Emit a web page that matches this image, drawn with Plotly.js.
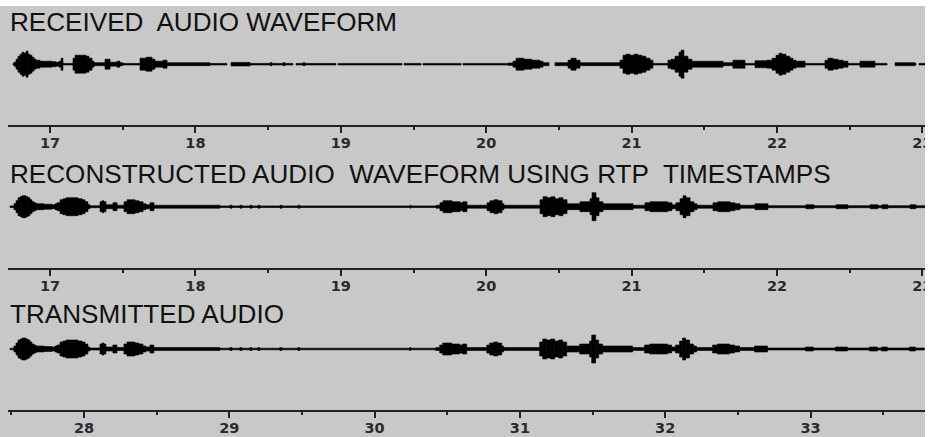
<!DOCTYPE html>
<html>
<head>
<meta charset="utf-8">
<script src="https://cdn.plot.ly/plotly-3.0.1.min.js"></script>
<style>
  html, body { margin: 0; padding: 0; background: #c8c8c8; }
  #chart { width: 928px; height: 437px; }
</style>
</head>
<body>
<div id="chart"></div>
<script>
// Waveform envelopes: amplitude holds from each knot time until the next knot.
// An amplitude of 0 leaves a gap in the trace.

// Received audio (seconds, envelope amplitude)
const receivedTime = [
  16.746, 16.752, 16.766, 16.780, 16.794, 16.807, 16.821, 16.835, 16.849, 16.862,
  16.876, 16.890, 16.904, 16.931, 17.014, 17.041, 17.062, 17.076, 17.089, 17.158,
  17.172, 17.248, 17.268, 17.289, 17.303, 17.378, 17.413, 17.461, 17.481, 17.502,
  17.619, 17.660, 17.702, 17.722, 17.777, 17.805, 18.100, 18.217, 18.245, 18.376,
  18.513, 18.527, 18.602, 18.616, 18.671, 18.692, 18.740, 18.754, 18.967, 18.981,
  19.421, 19.435, 19.552, 19.565, 19.827, 19.840, 20.150, 20.184, 20.205, 20.260,
  20.315, 20.370, 20.391, 20.432, 20.473, 20.563, 20.583, 20.618, 20.645, 20.920,
  20.941, 20.962, 20.989, 21.017, 21.044, 21.072, 21.099, 21.127, 21.147, 21.250,
  21.271, 21.299, 21.326, 21.340, 21.360, 21.388, 21.415, 21.629, 21.697, 21.780,
  21.849, 21.931, 21.966, 21.993, 22.014, 22.034, 22.062, 22.089, 22.110, 22.131,
  22.193, 22.330, 22.351, 22.385, 22.420, 22.454, 22.488, 22.571, 22.674, 22.757,
  22.812, 22.949, 22.956, 22.977, 23.018
];
const receivedAmp = [
  0.8, 2, 5, 8, 10, 12, 11, 13, 10, 9,
  7, 5, 4, 3, 2.5, 2, 3, 6, 0.8, 6,
  9, 8, 6, 3, 1.5, 5, 2, 3, 1.5, 0.8,
  6, 7, 5, 3, 4, 1.5, 0.8, 0, 1.8, 0.8,
  1.5, 0.8, 1.5, 0.8, 0, 0.8, 1.5, 0.8, 0, 0.8,
  0, 0.8, 0, 0.8, 0, 0.8, 1.2, 3, 6, 5,
  4, 3, 1.5, 0, 1.5, 4, 6, 4, 1.5, 4,
  9, 10, 9, 10, 9, 8, 6, 4, 0.8, 4,
  5, 8, 12, 14, 8, 5, 3, 1.5, 4, 0.8,
  3.5, 4, 6, 9, 11, 10, 8, 6, 4, 3,
  0.8, 4, 6, 5, 4, 3, 0.8, 3, 0.8, 0,
  1.5, 0.8, 0, 0.8, 0
];

// Reconstructed audio placed by RTP timestamps
const reconstructedTime = [
  16.725, 16.752, 16.766, 16.780, 16.794, 16.807, 16.835, 16.849, 16.862, 16.876,
  16.890, 16.904, 16.959, 17.014, 17.034, 17.048, 17.069, 17.089, 17.110, 17.193,
  17.220, 17.241, 17.261, 17.275, 17.344, 17.358, 17.371, 17.385, 17.433, 17.461,
  17.509, 17.530, 17.585, 17.612, 17.640, 17.660, 17.688, 17.715, 18.169, 18.238,
  18.252, 18.307, 18.320, 18.376, 18.389, 18.431, 18.444, 18.582, 18.596, 18.706,
  18.719, 19.476, 19.483, 19.655, 19.682, 19.703, 19.765, 19.820, 19.840, 19.868,
  20.006, 20.026, 20.054, 20.081, 20.109, 20.122, 20.370, 20.391, 20.418, 20.446,
  20.473, 20.501, 20.528, 20.556, 20.645, 20.714, 20.728, 20.755, 20.776, 20.803,
  21.010, 21.092, 21.127, 21.250, 21.278, 21.305, 21.333, 21.354, 21.374, 21.402,
  21.429, 21.450, 21.560, 21.594, 21.677, 21.711, 21.746, 21.849, 21.938, 22.199,
  22.254, 22.406, 22.488, 22.640, 22.695, 22.722, 22.763, 22.915, 22.956, 23.018
];

// Transmitted audio (sender clock)
const transmittedTime = [
  27.491, 27.518, 27.532, 27.546, 27.560, 27.573, 27.601, 27.615, 27.628, 27.642,
  27.656, 27.670, 27.725, 27.780, 27.800, 27.814, 27.835, 27.855, 27.876, 27.959,
  27.986, 28.007, 28.027, 28.041, 28.110, 28.124, 28.137, 28.151, 28.199, 28.227,
  28.275, 28.296, 28.351, 28.378, 28.406, 28.426, 28.454, 28.481, 28.935, 29.004,
  29.018, 29.073, 29.086, 29.142, 29.155, 29.197, 29.210, 29.348, 29.362, 29.472,
  29.485, 30.242, 30.249, 30.421, 30.448, 30.469, 30.531, 30.586, 30.606, 30.634,
  30.772, 30.792, 30.820, 30.847, 30.875, 30.888, 31.136, 31.157, 31.184, 31.212,
  31.239, 31.267, 31.294, 31.322, 31.411, 31.480, 31.494, 31.521, 31.542, 31.569,
  31.776, 31.858, 31.893, 32.016, 32.044, 32.071, 32.099, 32.120, 32.140, 32.168,
  32.195, 32.216, 32.326, 32.360, 32.443, 32.477, 32.512, 32.615, 32.704, 32.965,
  33.020, 33.172, 33.254, 33.406, 33.461, 33.488, 33.529, 33.681, 33.722, 33.784
];

// Same audio content in both of the lower panels
const transmittedAmp = [
  0.8, 3, 6, 9, 10, 11, 10, 9, 7, 5,
  4, 3, 2.5, 2, 3, 4, 7, 8, 9, 8,
  7, 5, 2, 1, 5, 6, 5, 2, 4, 1.5,
  5, 7, 6, 5, 3, 2, 4, 1.5, 0.8, 1.5,
  0.8, 1.5, 0.8, 1.5, 0.8, 1.5, 0.8, 1.5, 0.8, 1.5,
  0.8, 1.5, 0.8, 1.5, 4, 6, 5, 4, 5, 1.5,
  4, 6, 7, 6, 3, 1.5, 7, 10, 9, 10,
  8, 9, 7, 3, 5, 8, 14, 9, 5, 3,
  1.5, 4, 5, 4, 2, 4, 8, 11, 9, 5,
  3, 1.5, 4, 5, 4, 3, 1.5, 3, 1, 2,
  1, 2, 1, 2, 1, 2, 1, 2, 1, 0
];

const xTicks = {
  received: [17, 18, 19, 20, 21, 22, 23],
  transmitted: [28, 29, 30, 31, 32, 33]
};

const titles = [
  'RECEIVED\u00a0 AUDIO WAVEFORM',
  'RECONSTRUCTED AUDIO\u00a0 WAVEFORM USING RTP\u00a0 TIMESTAMPS',
  'TRANSMITTED AUDIO'
];

function envelopeBars(t, amp, xa, ya) {
  const x = [], w = [], base = [], h = [];
  for (let i = 0; i < t.length - 1; i++) {
    if (amp[i] > 0) {
      x.push((t[i] + t[i + 1]) / 2);
      w.push(t[i + 1] - t[i]);
      base.push(-amp[i]);
      h.push(2 * amp[i]);
    }
  }
  return {
    type: 'bar', x: x, y: h, base: base, width: w,
    xaxis: xa, yaxis: ya,
    marker: { color: '#000', line: { color: '#000', width: 0.6 } },
    hoverinfo: 'skip', showlegend: false
  };
}

const data = [
  envelopeBars(receivedTime, receivedAmp, 'x', 'y'),
  envelopeBars(reconstructedTime, transmittedAmp, 'x2', 'y2'),
  envelopeBars(transmittedTime, transmittedAmp, 'x3', 'y3')
];

const axisColor = '#222';
function timeAxis(anchor, range, ticks) {
  return {
    anchor: anchor, domain: [0, 1], range: range,
    showline: true, linecolor: axisColor, linewidth: 2,
    ticks: 'outside', ticklen: 6, tickwidth: 2, tickcolor: axisColor,
    tickvals: ticks, ticktext: ticks.map(String),
    ticklabeloverflow: 'allow', ticklabelstandoff: -2,
    tickfont: { family: 'DejaVu Sans', size: 14.5, weight: 'bold', color: '#2a2a2a' },
    minor: { tickvals: ticks.map(v => v - 0.5).concat([ticks[ticks.length - 1] + 0.5]),
             ticks: 'outside', ticklen: 3, tickwidth: 2, tickcolor: axisColor },
    showgrid: false, zeroline: false, fixedrange: true
  };
}
function ampAxis(domain, range) {
  return {
    domain: domain, range: range,
    showline: false, showgrid: false, zeroline: false,
    showticklabels: false, ticks: '', fixedrange: true
  };
}

function titleNote(text, y) {
  return {
    text: text, xref: 'paper', yref: 'paper', x: 0, y: y,
    xanchor: 'left', yanchor: 'top', showarrow: false,
    font: { family: 'Liberation Sans, Arial, sans-serif', size: 26.1, color: '#111' }
  };
}

const layout = {
  width: 928, height: 437,
  margin: { l: 8, r: 3, t: 0, b: 0, pad: 0 },
  paper_bgcolor: '#c8c8c8', plot_bgcolor: '#c8c8c8',
  barmode: 'overlay', showlegend: false,
  xaxis: timeAxis('y', [16.711, 23.018], xTicks.received),
  xaxis2: timeAxis('y2', [16.711, 23.018], xTicks.received),
  xaxis3: timeAxis('y3', [27.477, 33.788], xTicks.transmitted),
  yaxis: ampAxis([0.71396, 0.91991], [-60.8, 29.2]),
  yaxis2: ampAxis([0.38741, 0.59336], [-61, 29]),
  yaxis3: ampAxis([0.06247, 0.26842], [-60.7, 29.3]),
  annotations: [
    titleNote(titles[0], 0.9881),
    titleNote(titles[1], 0.6403),
    titleNote(titles[2], 0.3199)
  ],
  shapes: [
    { type: 'rect', xref: 'paper', yref: 'paper', x0: -0.02, x1: 1.02, y0: 0.98627, y1: 1.02,
      fillcolor: '#fff', line: { width: 0 }, layer: 'above' },
    { type: 'rect', xref: 'paper', yref: 'paper', x0: 1, x1: 1.01, y0: -0.02, y1: 1.02,
      fillcolor: '#fff', line: { width: 0 }, layer: 'above' }
  ]
};

Plotly.newPlot('chart', data, layout, { staticPlot: true, displayModeBar: false });
</script>
</body>
</html>
